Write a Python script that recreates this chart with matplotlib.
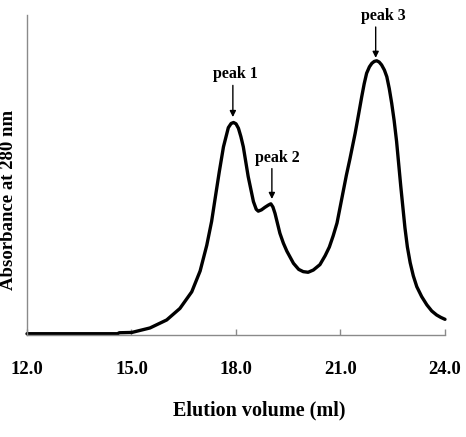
import matplotlib
matplotlib.use("Agg")
import matplotlib.pyplot as plt

# Elution volume (ml) and absorbance (arbitrary units)
volume = [12.0, 14.6, 14.65, 15.01, 15.53, 16.01, 16.39, 16.73, 16.97, 17.16, 17.3,
          17.42, 17.52, 17.64, 17.78, 17.86, 17.93, 18.0, 18.07, 18.14, 18.21, 18.35,
          18.5, 18.58, 18.64, 18.73, 18.83, 18.93, 19.0, 19.06, 19.12, 19.26, 19.36,
          19.46, 19.65, 19.8, 19.93, 20.07, 20.22, 20.41, 20.56, 20.68, 20.79, 20.9,
          20.99, 21.08, 21.17, 21.27, 21.42, 21.52, 21.61, 21.68, 21.75, 21.83, 21.9,
          21.97, 22.04, 22.11, 22.18, 22.26, 22.33, 22.4, 22.47, 22.54, 22.61, 22.67,
          22.73, 22.79, 22.85, 22.92, 23.0, 23.09, 23.19, 23.33, 23.48, 23.62, 23.76,
          23.88, 24.0]
absorbance = [0.004, 0.004, 0.007, 0.008, 0.022, 0.047, 0.083, 0.135, 0.2, 0.28, 0.355,
              0.44, 0.51, 0.588, 0.648, 0.661, 0.664, 0.66, 0.646, 0.62, 0.588, 0.495,
              0.417, 0.393, 0.387, 0.391, 0.399, 0.406, 0.41, 0.4, 0.38, 0.318, 0.287,
              0.262, 0.224, 0.205, 0.198, 0.196, 0.203, 0.22, 0.248, 0.275, 0.31, 0.35,
              0.40, 0.45, 0.50, 0.55, 0.63, 0.69, 0.745, 0.785, 0.818, 0.838, 0.849,
              0.855, 0.857, 0.853, 0.844, 0.828, 0.807, 0.77, 0.724, 0.67, 0.605, 0.535,
              0.465, 0.40, 0.335, 0.275, 0.226, 0.185, 0.151, 0.12, 0.094, 0.075, 0.0625,
              0.055, 0.049]

xticks = [12.0, 15.0, 18.0, 21.0, 24.0]
xtick_labels = ["12.0", "15.0", "18.0", "21.0", "24.0"]

peak_names = ["peak 1", "peak 2", "peak 3"]
peak_x = [17.91, 19.03, 22.01]
peak_tip = [0.681, 0.425, 0.866]
peak_tail = [0.78, 0.52, 0.9625]
label_x = [17.97, 19.18, 22.22]
label_y = [0.816, 0.553, 0.997]

plt.rcParams['font.family'] = ['Liberation Serif', 'DejaVu Serif']
plt.rcParams['font.weight'] = 'bold'

fig = plt.figure(figsize=(4.66, 4.37), dpi=100)
ax = fig.add_axes([27/466, 1-335/437, (445-27)/466, 320/437])

ax.plot(volume, absorbance, color='black', lw=2.4, solid_joinstyle='round',
        solid_capstyle='round', clip_on=False)

ax.set_xlim(12, 24)
ax.set_ylim(0, 1.0)

for s in ['top', 'right']:
    ax.spines[s].set_visible(False)
for s in ['left', 'bottom']:
    ax.spines[s].set_color('#8a8a8a')
    ax.spines[s].set_linewidth(1.0)

ax.set_yticks([])
ax.set_xticks(xticks)
ax.set_xticklabels(xtick_labels, fontsize=13.5, fontweight='bold')
ax.tick_params(axis='x', direction='in', length=4, width=1, color='#8a8a8a', pad=19)

for name, px, tip, tail, lx, ly in zip(peak_names, peak_x, peak_tip, peak_tail, label_x, label_y):
    ax.annotate('', xy=(px, tip), xytext=(px, tail),
                arrowprops=dict(arrowstyle='-|>', color='black', lw=1.0, mutation_scale=9,
                                shrinkA=0, shrinkB=0))
    ax.text(lx, ly, name, ha='center', va='center', fontsize=11.5, fontweight='bold',
            clip_on=False)

fig.text(259/466, 1-410/437, "Elution volume (ml)", ha='center', va='center',
         fontsize=14.5, fontweight='bold')
fig.text(9/466, 1-200/437, "Absorbance at 280 nm", ha='center', va='center',
         rotation=90, fontsize=13.5, fontweight='bold')

fig.savefig("out.png", dpi=100)
